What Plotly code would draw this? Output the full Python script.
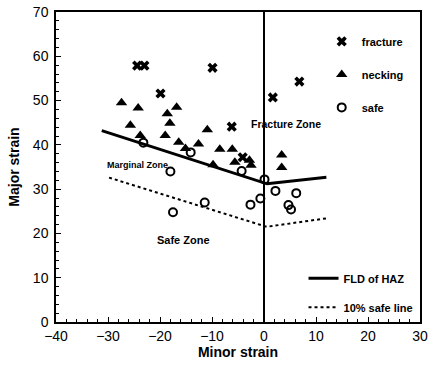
import plotly.graph_objects as go

# ---- data ----
fracture_x = [-24.4, -23.0, -19.9, -9.9, -6.2, -4.1, 1.7, 6.8]
fracture_y = [57.9, 57.9, 51.6, 57.4, 44.1, 37.2, 50.7, 54.3]

necking_x = [-27.4, -24.2, -16.8, -18.6, -18.1, -25.7, -23.8, -19.0, -10.9, -16.4,
             -12.6, -15.1, -9.8, -8.5, -6.1, -5.6, -2.8, -2.5, 3.4, 3.4]
necking_y = [49.5, 48.3, 48.5, 47.0, 44.9, 44.4, 42.1, 42.1, 43.4, 40.6,
             40.2, 39.2, 35.5, 39.0, 39.0, 36.1, 36.5, 35.4, 37.7, 34.9]

safe_x = [-23.2, -14.1, -18.0, -17.5, -11.4, -4.3, 0.1, 2.2, 6.2, -0.7, -2.6, 4.7, 5.2]
safe_y = [40.5, 38.3, 34.0, 24.8, 27.0, 34.1, 32.2, 29.6, 29.1, 27.9, 26.5, 26.4, 25.4]

fld_x = [-31.2, 0.6, 12.0]
fld_y = [43.2, 31.2, 32.7]

safe_line_x = [-29.8, 0.5, 12.0]
safe_line_y = [32.6, 21.5, 23.4]

zone_labels = ["Fracture Zone", "Marginal Zone", "Safe Zone"]
zone_x = [4.3, -24.4, -15.4]
zone_y = [44.8, 35.4, 18.5]

x_ticks = [-40, -30, -20, -10, 0, 10, 20, 30]
y_ticks = [0, 10, 20, 30, 40, 50, 60, 70]

# styling (kept apart from the data)
FONT = "Liberation Sans, Arial, sans-serif"
zone_font_sizes = [10.5, 9, 11]

fig = go.Figure()

fig.add_trace(go.Scatter(
    x=fracture_x, y=fracture_y, mode="markers", name="<b>fracture</b>",
    legendgroup="f", legend="legend",
    marker=dict(symbol="x", size=9, color="black")))
fig.add_trace(go.Scatter(
    x=necking_x, y=necking_y, mode="markers", name="<b>necking</b>",
    legendgroup="n", legend="legend",
    marker=dict(symbol="triangle-up", size=10, color="black")))
fig.add_trace(go.Scatter(
    x=safe_x, y=safe_y, mode="markers", name="<b>safe</b>",
    legendgroup="s", legend="legend",
    marker=dict(symbol="circle-open", size=8, color="black", line=dict(width=2, color="black"))))

fig.add_trace(go.Scatter(
    x=fld_x, y=fld_y, mode="lines", name="<b>FLD of HAZ</b>",
    legendgroup="l1", legend="legend2",
    line=dict(color="black", width=3)))
fig.add_trace(go.Scatter(
    x=safe_line_x, y=safe_line_y, mode="lines", name="<b>10% safe line</b>",
    legendgroup="l2", legend="legend2",
    line=dict(color="black", width=2, dash="dot")))

for t, x, y, fs in zip(zone_labels, zone_x, zone_y, zone_font_sizes):
    fig.add_annotation(x=x, y=y, text="<b>" + t + "</b>", showarrow=False,
                       font=dict(family=FONT, size=fs, color="black"))

axis_common = dict(
    showline=True, linecolor="black", linewidth=1.5, mirror=True,
    ticks="inside", ticklen=5, tickwidth=1, tickcolor="black",
    showgrid=False, automargin=False, ticklabeloverflow="allow",
    tickfont=dict(family=FONT, size=14, color="black"),
    minor=dict(ticks="inside", ticklen=3, tickwidth=1, tickcolor="black", dtick=2),
)

fig.update_xaxes(range=[-40, 30], tickvals=x_ticks,
                 zeroline=True, zerolinecolor="black", zerolinewidth=1.5,
                 title=dict(text="<b>Minor strain</b>", font=dict(family=FONT, size=14, color="black"),
                            standoff=2),
                 ticklabelstandoff=0,
                 **axis_common)
fig.update_yaxes(range=[0, 70], tickvals=y_ticks, zeroline=False,
                 title=dict(text="<b>Major strain</b>", font=dict(family=FONT, size=14, color="black"),
                            standoff=10),
                 ticklabelstandoff=3,
                 **axis_common)

fig.update_layout(
    template="none",
    width=428, height=375,
    margin=dict(l=56, r=8, t=12, b=53, autoexpand=False),
    plot_bgcolor="white", paper_bgcolor="white",
    showlegend=True,
    legend=dict(x=0.73, y=0.952, xanchor="left", yanchor="top",
                bgcolor="rgba(0,0,0,0)", tracegroupgap=14,
                font=dict(family=FONT, size=11, color="black")),
    legend2=dict(x=0.68, y=0.188, xanchor="left", yanchor="top",
                 bgcolor="rgba(0,0,0,0)", tracegroupgap=10,
                 font=dict(family=FONT, size=11, color="black")),
)

fig.write_html("out.html", config={"displayModeBar": False},
               post_script="document.body.style.margin='0';document.body.style.overflow='hidden';")
